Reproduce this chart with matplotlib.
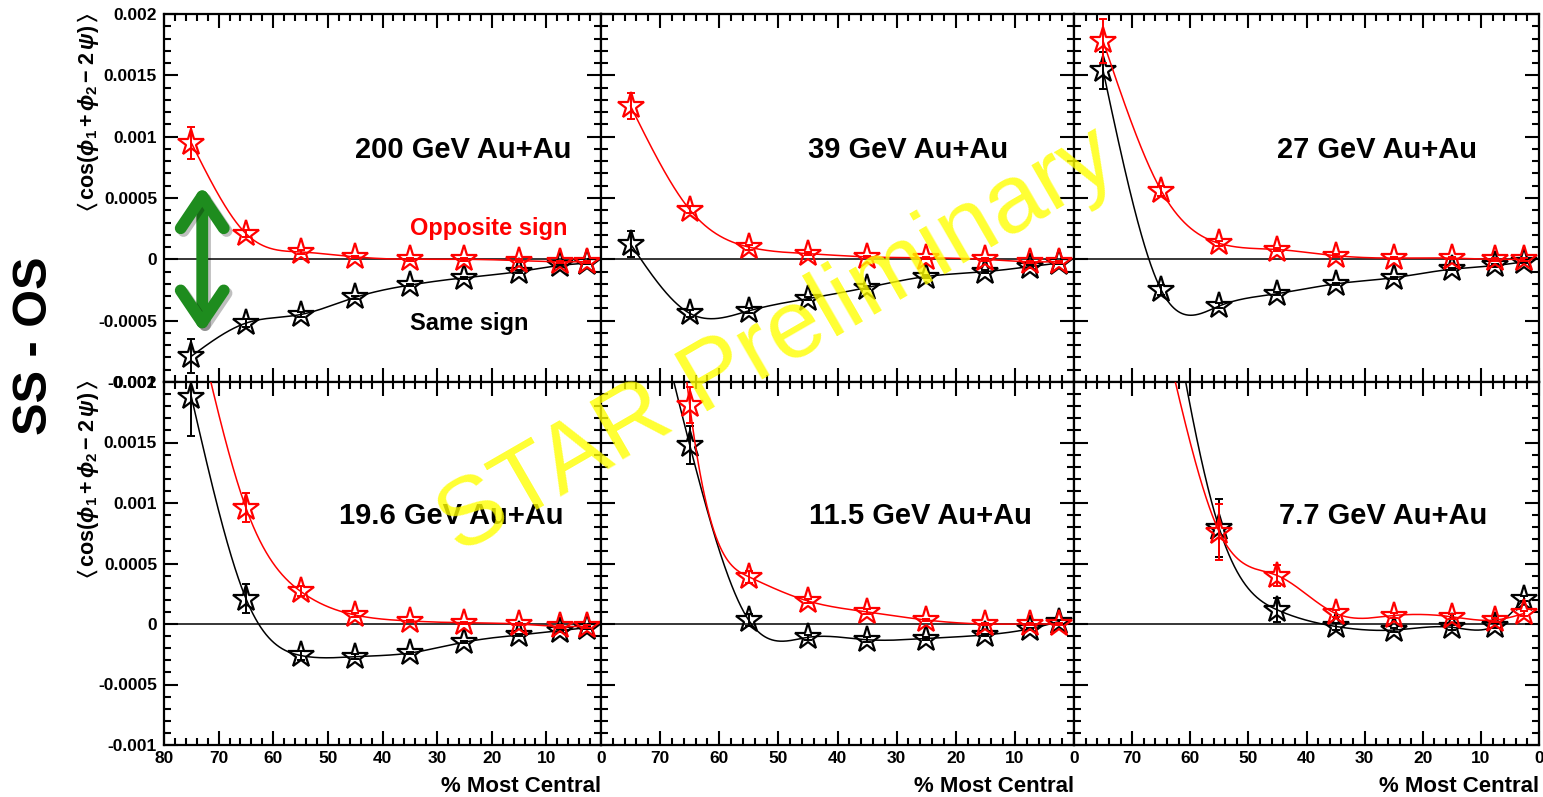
import numpy as np
import matplotlib
matplotlib.use("Agg")
import matplotlib.pyplot as plt
from matplotlib.ticker import MultipleLocator, FuncFormatter
from matplotlib import patheffects

plt.rcParams['font.family'] = ['Liberation Sans', 'DejaVu Sans']
plt.rcParams['font.weight'] = 'bold'
plt.rcParams['mathtext.fontset'] = 'custom'
plt.rcParams['mathtext.rm'] = 'Liberation Sans'
plt.rcParams['mathtext.bf'] = 'Liberation Sans:bold'
plt.rcParams['mathtext.it'] = 'Liberation Sans:italic'
plt.rcParams['mathtext.sf'] = 'Liberation Sans'
plt.rcParams['mathtext.fallback'] = 'stix'

# centrality bin centres (% most central)
centrality = [75, 65, 55, 45, 35, 25, 15, 7.5, 2.5]

energy_labels = ["200 GeV Au+Au", "39 GeV Au+Au", "27 GeV Au+Au",
                 "19.6 GeV Au+Au", "11.5 GeV Au+Au", "7.7 GeV Au+Au"]

# <cos(phi1 + phi2 - 2 psi)> : opposite-sign (os) and same-sign (ss) pairs
os_200 = [0.00095, 0.00021, 0.00006, 0.00002, 0.0, 0.0, -0.00001, -0.00002, -0.00002]
os_err_200 = [0.00013, 0.00003, 0.00002, 0.00001, 0.00001, 0.00001, 0.00001, 0.00001, 0.00001]
ss_200 = [-0.00079, -0.00052, -0.00045, -0.00031, -0.00021, -0.00015, -0.0001, -0.00005, -0.00003]
ss_err_200 = [0.00014, 0.00003, 0.00002, 0.00001, 0.00001, 0.00001, 0.00001, 0.00001, 0.00001]

os_39 = [0.00125, 0.000405, 0.0001, 0.000046, 0.00002, 0.000012, 0.0, -0.00002, -0.00002]
os_err_39 = [0.00011, 0.00003, 0.00002, 0.00001, 0.00001, 0.00001, 0.00001, 0.00001, 0.00001]
ss_39 = [0.000125, -0.00044, -0.00042, -0.00032, -0.00023, -0.00014, -0.0001, -0.00006, -0.00003]
ss_err_39 = [0.00011, 0.00003, 0.00002, 0.00001, 0.00001, 0.00001, 0.00001, 0.00001, 0.00001]

os_27 = [0.00178, 0.00056, 0.00013, 0.00008, 0.00003, 0.00001, 0.00001, 0.0, 0.0]
os_err_27 = [0.00018, 0.00004, 0.00002, 0.00001, 0.00001, 0.00001, 0.00001, 0.00001, 0.00001]
ss_27 = [0.00154, -0.00025, -0.00038, -0.00028, -0.0002, -0.00015, -0.00008, -0.00005, -0.00002]
ss_err_27 = [0.00015, 0.00004, 0.00002, 0.00001, 0.00001, 0.00001, 0.00001, 0.00001, 0.00001]

os_196 = [0.0027, 0.00096, 0.00027, 0.000074, 0.000025, 0.00001, 0.0, -0.00002, -0.00002]
os_err_196 = [0.0004, 0.00012, 0.00004, 0.00002, 0.00001, 0.00001, 0.00001, 0.00001, 0.00001]
ss_196 = [0.00188, 0.00021, -0.00026, -0.00027, -0.00024, -0.00015, -0.00009, -0.000055, -0.00003]
ss_err_196 = [0.00033, 0.00012, 0.00004, 0.00002, 0.00001, 0.00001, 0.00001, 0.00001, 0.00001]

os_115 = [0.008, 0.00181, 0.00039, 0.00019, 0.0001, 0.000033, 0.0, 0.0, 0.0]
os_err_115 = [0.0008, 0.00015, 0.00005, 0.00002, 0.00002, 0.00001, 0.00001, 0.00001, 0.00001]
ss_115 = [0.0035, 0.00148, 0.00003, -0.00011, -0.00013, -0.00012, -0.00009, -0.00004, 0.00002]
ss_err_115 = [0.0006, 0.00016, 0.00005, 0.00002, 0.00002, 0.00001, 0.00001, 0.00001, 0.00001]

os_77 = [0.0045, 0.0025, 0.00076, 0.0004, 0.000088, 0.00007, 0.00006, 0.000033, 0.000088]
os_err_77 = [0.0008, 0.0003, 0.00023, 0.00009, 0.00003, 0.00002, 0.00002, 0.00002, 0.00002]
ss_77 = [0.0065, 0.0032, 0.00079, 0.000116, -0.00002, -0.00005, -0.000027, -0.000014, 0.00021]
ss_err_77 = [0.001, 0.0005, 0.00024, 0.0001, 0.00003, 0.00002, 0.00002, 0.00002, 0.00002]

panels = [
    (os_200, os_err_200, ss_200, ss_err_200),
    (os_39, os_err_39, ss_39, ss_err_39),
    (os_27, os_err_27, ss_27, ss_err_27),
    (os_196, os_err_196, ss_196, ss_err_196),
    (os_115, os_err_115, ss_115, ss_err_115),
    (os_77, os_err_77, ss_77, ss_err_77),
]

W, H = 1543, 797
col_edges = [164, 601, 1074, 1539]
row_edges = [(14, 382), (382, 745)]
XMIN, XMAX = 80, 0
YMIN, YMAX = -0.001, 0.002
label_x = [0.437, 0.437, 0.437, 0.40, 0.44, 0.44]


def natural_spline(t, v, ts):
    n = len(t)
    h = np.diff(t)
    A = np.zeros((n, n))
    r = np.zeros(n)
    A[0, 0] = A[-1, -1] = 1.0
    for i in range(1, n - 1):
        A[i, i - 1] = h[i - 1]
        A[i, i] = 2 * (h[i - 1] + h[i])
        A[i, i + 1] = h[i]
        r[i] = 6 * ((v[i + 1] - v[i]) / h[i] - (v[i] - v[i - 1]) / h[i - 1])
    M = np.linalg.solve(A, r)
    k = np.clip(np.searchsorted(t, ts) - 1, 0, n - 2)
    hk = h[k]
    a = t[k + 1] - ts
    b = ts - t[k]
    return (M[k] * a ** 3 / (6 * hk) + M[k + 1] * b ** 3 / (6 * hk)
            + (v[k] / hk - M[k] * hk / 6) * a + (v[k + 1] / hk - M[k + 1] * hk / 6) * b)


def smooth_curve(x, y):
    # natural cubic spline y(x) through the measured points
    x = np.asarray(x, float)
    y = np.asarray(y, float)
    order = np.argsort(x)
    xs = np.linspace(x.min(), x.max(), 1500)
    return xs, natural_spline(x[order], y[order], xs)


def ylab(v, pos):
    if abs(v) < 1e-12:
        return "0"
    return ("%.4f" % v).rstrip("0")


fig = plt.figure(figsize=(W / 100, H / 100), dpi=100)
axes = []
for idx in range(6):
    row, col = divmod(idx, 3)
    x0, x1 = col_edges[col], col_edges[col + 1]
    y0, y1 = row_edges[row]
    ax = fig.add_axes([x0 / W, 1 - y1 / H, (x1 - x0) / W, (y1 - y0) / H])
    axes.append(ax)
    ax.set_xlim(XMIN, XMAX)
    ax.set_ylim(YMIN, YMAX)
    ax.xaxis.set_major_locator(MultipleLocator(10))
    ax.xaxis.set_minor_locator(MultipleLocator(2))
    ax.yaxis.set_major_locator(MultipleLocator(0.0005))
    ax.yaxis.set_minor_locator(MultipleLocator(0.0001))
    ax.tick_params(which='both', direction='in', top=True, right=True, width=1.5, color='black')
    ax.tick_params(which='major', length=10)
    ax.tick_params(which='minor', length=5)
    ax.tick_params(axis='y', pad=5, labelsize=12.5)
    ax.tick_params(axis='x', pad=4, labelsize=12.5)
    for sp in ax.spines.values():
        sp.set_linewidth(1.6)
    ax.yaxis.set_major_formatter(FuncFormatter(ylab))
    ax.xaxis.set_major_formatter(FuncFormatter(lambda v, p: "%d" % round(v)))
    if col != 0:
        ax.tick_params(axis='y', labelleft=False)
    if row == 0:
        ax.tick_params(axis='x', labelbottom=False)
    elif col != 0:
        ax.set_xticks([70, 60, 50, 40, 30, 20, 10, 0])
    for lab in ax.get_xticklabels() + ax.get_yticklabels():
        lab.set_fontweight('bold')

    ax.axhline(0, color='black', lw=1.1, zorder=1)

    os_v, os_e, ss_v, ss_e = panels[idx]
    for vals, errs, colr, z in ((ss_v, ss_e, 'black', 3), (os_v, os_e, 'red', 4)):
        cx, cy = smooth_curve(centrality, vals)
        ax.plot(cx, cy, color=colr, lw=1.1, zorder=z)
        ax.errorbar(centrality, vals, yerr=errs, fmt='none', ecolor=colr,
                    elinewidth=1.4, capsize=3.2, capthick=1.4, zorder=z)
        ax.plot(centrality, vals, ls='none', marker='*', ms=19.5, mfc='none',
                mec=colr, mew=1.6, zorder=z + 0.5)

    ax.text(label_x[idx], 0.63, energy_labels[idx], transform=ax.transAxes,
            ha='left', va='center', fontsize=21, fontweight='bold')
    if row == 1:
        ax.text(1.0, -0.115, "% Most Central", transform=ax.transAxes,
                ha='right', va='center', fontsize=16, fontweight='bold')

# labels inside the 200 GeV panel
ax0 = axes[0]
ax0.text(0.564, 0.418, "Opposite sign", transform=ax0.transAxes, color='red',
         ha='left', va='center', fontsize=17, fontweight='bold')
ax0.text(0.564, 0.16, "Same sign", transform=ax0.transAxes, color='black',
         ha='left', va='center', fontsize=17, fontweight='bold')
ax0.annotate('', xy=(73, 0.0006), xytext=(73, -0.0006),
             arrowprops=dict(arrowstyle='<->,head_length=2.3,head_width=1.55',
                             lw=8.5, color='#1e8c1e', shrinkA=0, shrinkB=0,
                             capstyle='round', joinstyle='round', mutation_scale=10,
                             path_effects=[patheffects.SimpleLineShadow(offset=(2, -2), alpha=0.25),
                                           patheffects.Normal()]),
             zorder=6)

ylabel = r'$\langle\,\mathbf{cos(}\phi_{1}\,\mathbf{+}\,\phi_{2}\,\mathbf{-\;2}\,\psi\mathbf{)}\,\rangle$'
for ytop in (12, 379):
    fig.text(88 / W, 1 - ytop / H, ylabel, rotation=90, ha='center', va='top', fontsize=15.5)

fig.text(35 / W, 1 - 346 / H, "SS - OS", rotation=90, ha='center', va='center',
         fontsize=35, fontweight='bold')

fig.text(778 / W, 1 - 342 / H, "STAR Preliminary", rotation=30, ha='center', va='center',
         fontsize=70, fontweight='normal', color='#ffff00', alpha=0.8, zorder=20)

fig.savefig("out.png", dpi=100)
